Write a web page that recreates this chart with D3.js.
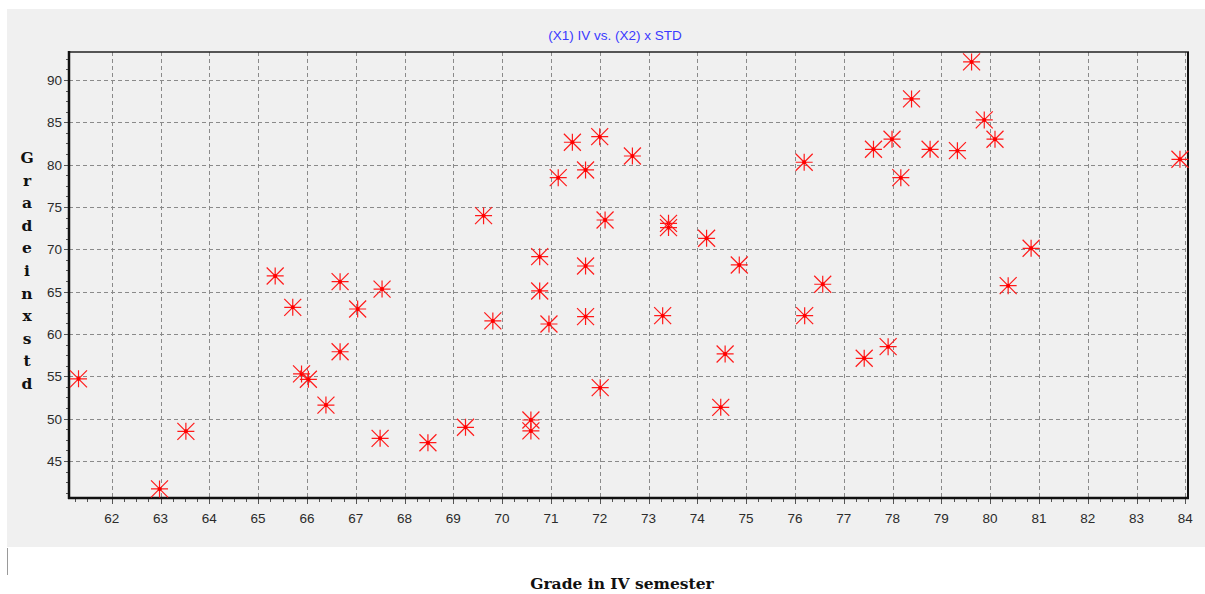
<!DOCTYPE html>
<html><head><meta charset="utf-8">
<script src="https://cdn.jsdelivr.net/npm/d3@7/dist/d3.min.js"></script>
<style>body{margin:0;background:#fff}svg{display:block}</style>
</head><body>
<svg id="c" width="1205" height="594"></svg>
<script>
const title = "(X1) IV vs. (X2) x STD";
const xLabel = "Grade in IV semester";
const yLabel = "Gradeinxstd";
const xTicks = [62,63,64,65,66,67,68,69,70,71,72,73,74,75,76,77,78,79,80,81,82,83,84];
const yTicks = [45,50,55,60,65,70,75,80,85,90];
const gradeIV = [61.32,62.98,63.52,65.35,65.71,66.68,67.04,67.54,66.68,65.89,66.03,66.39,67.5,68.48,69.25,70.59,70.59,74.48,
  69.62,72.11,73.41,73.41,74.19,74.86,70.77,71.71,70.77,69.81,70.96,71.71,73.29,74.57,72.01,76.2,
  71.15,71.44,71.71,72.0,72.67,76.19,77.61,77.99,78.17,78.39,78.77,79.33,79.62,79.88,80.1,83.89,
  76.57,77.42,77.91,80.37,80.84];
const gradeStd = [54.7,41.7,48.5,66.85,63.15,66.18,62.95,65.3,57.9,55.28,54.65,51.6,47.68,47.16,48.98,49.84,48.55,51.34,
  73.97,73.46,73.07,72.56,71.3,68.15,69.13,68.03,65.08,61.54,61.18,62.05,62.16,57.64,53.66,62.16,
  78.46,82.64,79.37,83.3,81.02,80.28,81.81,83.0,78.46,87.76,81.81,81.65,92.13,85.28,83.0,80.63,
  65.87,57.13,58.5,65.71,70.12];
const points = gradeIV.map((v,i)=>({x:v,y:gradeStd[i]}));

const svg = d3.select("#c");
const L=69, R=1188, T=52, B=498;
const x = d3.scaleLinear().domain([61.125,84.055]).range([L,R]);
const y = d3.scaleLinear().domain([40.63,93.3]).range([B,T]);

// panel background
svg.append("rect").attr("x",7).attr("y",9).attr("width",1198).attr("height",538).attr("fill","#f0f0f0");
svg.append("line").attr("x1",7.5).attr("x2",7.5).attr("y1",548).attr("y2",575).attr("stroke","#9a9a9a").attr("stroke-width",1);

// grid
const g = svg.append("g");
g.selectAll(".vg").data(xTicks).join("line")
  .attr("x1",d=>Math.round(x(d))+0.5).attr("x2",d=>Math.round(x(d))+0.5)
  .attr("y1",T).attr("y2",B).attr("stroke","#8a8a8a").attr("stroke-dasharray","4,3");
g.selectAll(".hg").data(yTicks).join("line")
  .attr("y1",d=>Math.round(y(d))+0.5).attr("y2",d=>Math.round(y(d))+0.5)
  .attr("x1",L).attr("x2",R).attr("stroke","#8a8a8a").attr("stroke-dasharray","4,3");

// minor ticks
const xMinor = d3.range(61.25, 84.01, 0.25);
const yMinor = d3.range(41.25, 93.3, 1.25);
const tk = svg.append("g").attr("stroke","#555").attr("stroke-width",1);
tk.selectAll(".xm").data(xMinor).join("line")
  .attr("x1",d=>Math.round(x(d))+0.5).attr("x2",d=>Math.round(x(d))+0.5)
  .attr("y1",B).attr("y2",d=>B+ (xTicks.some(t=>Math.abs(t-d)<1e-6)?6:4));
tk.selectAll(".ym").data(yMinor).join("line")
  .attr("y1",d=>Math.round(y(d))+0.5).attr("y2",d=>Math.round(y(d))+0.5)
  .attr("x1",L).attr("x2",d=>L-(yTicks.some(t=>Math.abs(t-d)<1e-6)?5:3));

// tick labels
svg.append("g").selectAll("text").data(xTicks).join("text")
  .attr("x",d=>x(d)).attr("y",522.5).attr("text-anchor","middle")
  .attr("font-family","Liberation Sans, Arial, sans-serif").attr("font-size",13.5).attr("fill","#2b2b2b")
  .text(d=>d);
svg.append("g").selectAll("text").data(yTicks).join("text")
  .attr("x",62).attr("y",d=>y(d)+5).attr("text-anchor","end")
  .attr("font-family","Liberation Sans, Arial, sans-serif").attr("font-size",13.5).attr("fill","#2b2b2b")
  .text(d=>d);

// frame
svg.append("line").attr("x1",L).attr("x2",R+1).attr("y1",T).attr("y2",T).attr("stroke","#222").attr("stroke-width",1.5);
svg.append("line").attr("x1",R).attr("x2",R).attr("y1",T).attr("y2",B).attr("stroke","#111").attr("stroke-width",2);
svg.append("line").attr("x1",L).attr("x2",L).attr("y1",T-1).attr("y2",B+1).attr("stroke","#111").attr("stroke-width",2.5);
svg.append("line").attr("x1",L-1).attr("x2",R+1).attr("y1",B).attr("y2",B).attr("stroke","#111").attr("stroke-width",2.5);

// markers
const s = 8.5;
const star = `M${-s},0L${s},0M0,${-s}L0,${s}M${-s},${-s}L${s},${s}M${-s},${s}L${s},${-s}`;
const mk = svg.append("g");
const m = mk.selectAll("g").data(points).join("g")
  .attr("transform",d=>`translate(${x(d.x)},${y(d.y)})`);
m.append("path").attr("d",star).attr("stroke","#ff1a1a").attr("stroke-width",1.2).attr("fill","none");
m.append("circle").attr("r",2).attr("fill","#ff0000");

// title
svg.append("text").attr("x",615).attr("y",40).attr("text-anchor","middle")
  .attr("font-family","Liberation Sans, Arial, sans-serif").attr("font-size",13.5).attr("fill","#3a3aff")
  .text(title);

// axis labels
svg.append("text").attr("x",622).attr("y",589).attr("text-anchor","middle")
  .attr("font-family","DejaVu Serif, serif").attr("font-weight","bold").attr("font-size",15.5).attr("fill","#111")
  .text(xLabel);
svg.append("g").selectAll("text").data(yLabel.split("")).join("text")
  .attr("x",27).attr("y",(d,i)=>163+i*22.6).attr("text-anchor","middle")
  .attr("font-family","DejaVu Serif, serif").attr("font-weight","bold").attr("font-size",15.5).attr("fill","#111")
  .text(d=>d);
</script>
</body></html>
